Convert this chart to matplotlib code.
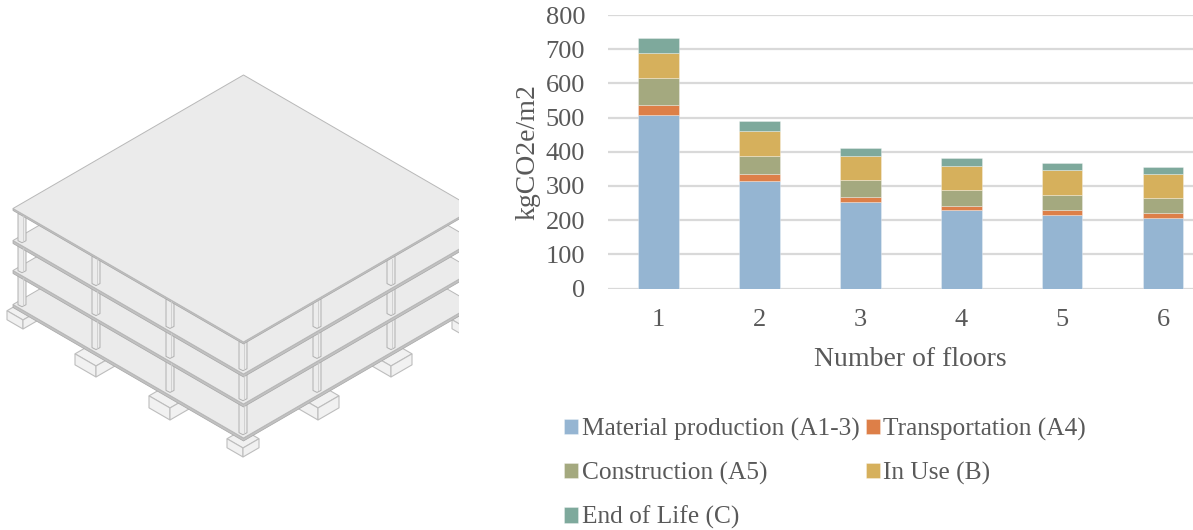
import numpy as np
import matplotlib
matplotlib.use('Agg')
import matplotlib.pyplot as plt
from matplotlib.patches import Polygon

W, H = 1193, 530

floors = [1, 2, 3, 4, 5, 6]
material = [507, 313, 252, 229, 214, 207]
transport = [30, 22, 16, 12, 15, 14]
construction = [79, 54, 49, 47, 45, 44]
in_use = [74, 72, 71, 71, 72, 71]
end_of_life = [43, 29, 24, 23, 20, 20]

series = [
    ('Material production (A1-3)', material, '#95b5d2'),
    ('Transportation (A4)', transport, '#dd7f48'),
    ('Construction (A5)', construction, '#a4a97f'),
    ('In Use (B)', in_use, '#d6b05c'),
    ('End of Life (C)', end_of_life, '#7ea99c'),
]
legend_order = [0, 2, 4, 1, 3]

# building drawing, in pixels
slab_drop = [96, 62, 32, 0]
slab_center = (243.5, 208.5)
slab_half = (230.5, 133.5)
column_x = [22, 96, 170, 243, 317, 391]
# centre x, y of front top corner, half width, height
footings = [
    (23, 320, 16, 9),
    (468, 329, 16, 9),
    (96, 366, 21, 11),
    (391, 366, 21, 11),
    (170, 408, 21, 12),
    (318, 408, 21, 12),
    (243, 448, 16, 9),
]

FILL = '#ebebeb'
EDGE = '#b0b0b0'
BAND = '#c2c2c2'


def edge_y(x, drop):
    cx, cy = slab_center
    hw, hh = slab_half
    return cy + hh * (1 - abs(x - cx) / hw) + drop


def draw_footing(ax, cx, y, hw, h):
    dy = hw * slab_half[1] / slab_half[0]
    kw = dict(fc='#f1f1f1', ec='#bdbdbd', lw=0.8)
    ax.add_patch(Polygon([(cx - hw, y - dy), (cx, y - 2 * dy), (cx + hw, y - dy), (cx, y)], **kw))
    ax.add_patch(Polygon([(cx - hw, y - dy), (cx, y), (cx, y + h), (cx - hw, y - dy + h)], **kw))
    ax.add_patch(Polygon([(cx + hw, y - dy), (cx, y), (cx, y + h), (cx + hw, y - dy + h)], **kw))


def draw_slab(ax, drop):
    cx, cy = slab_center
    hw, hh = slab_half
    cy += drop
    t = 3
    # the roof slab reads thinner than the floors under it
    if drop == 0:
        t = 2
    ax.add_patch(Polygon([(cx - hw, cy), (cx, cy + hh), (cx + hw, cy), (cx + hw, cy + t),
                          (cx, cy + hh + t), (cx - hw, cy + t)], fc=BAND, ec='#a6a6a6', lw=0.5))
    ax.add_patch(Polygon([(cx - hw, cy), (cx, cy - hh), (cx + hw, cy), (cx, cy + hh)],
                         fc=FILL, ec='#b8b8b8', lw=0.7))


def draw_column(ax, x, top, bottom):
    w = 4
    ax.add_patch(Polygon([(x - w, top), (x + w, top), (x + w, bottom - 2), (x, bottom),
                          (x - w, bottom - 2)], fc='#ececec', ec=EDGE, lw=0.7))
    ax.plot([x + 1, x + 1], [top + 2, bottom - 2], color='#cccccc', lw=0.6)


fig = plt.figure(figsize=(W / 100, H / 100), dpi=100)
plt.rcParams['font.family'] = ['Liberation Serif', 'DejaVu Serif']

ax_b = fig.add_axes([0, 0, 459 / W, 1])
ax_b.set_xlim(0, 459)
ax_b.set_ylim(H, 0)
ax_b.axis('off')

for f in footings:
    draw_footing(ax_b, *f)
draw_slab(ax_b, slab_drop[0])
for upper, lower in zip(slab_drop[1:], slab_drop[:-1]):
    for x in column_x:
        draw_column(ax_b, x, edge_y(x, upper), edge_y(x, lower) - 3)
    draw_slab(ax_b, upper)

# stacked bars; the category axis runs off the right of the figure
left, right, top, bottom = 608, 1193, 15, 288.5
ax = fig.add_axes([left / W, 1 - bottom / H, (right - left) / W, (bottom - top) / H])
x = np.arange(len(floors)) + 1
base = np.zeros(len(floors))
handles = []
for name, vals, col in series:
    b = ax.bar(x, vals, 0.405, bottom=base, color=col, edgecolor=(1, 1, 1, 0.3), linewidth=0.7,
               label=name, zorder=3)
    handles.append(b)
    base += np.array(vals)

ax.set_xlim(0.5, 0.5 + (right - left) / 100.9)
ax.set_ylim(0, 800)
ax.set_yticks(range(0, 801, 100))
ax.set_xticks(x)
ax.set_xticklabels(floors)
ax.grid(axis='y', color='#d9d9d9', lw=1.6, zorder=0)
ax.set_axisbelow(True)
for s in ax.spines.values():
    s.set_visible(False)
ax.tick_params(length=0, labelsize=19, labelcolor='#595959')
ax.tick_params(axis='x', pad=14.5)
ax.tick_params(axis='y', pad=16.5)

fig.text(910 / W, 1 - 359 / H, 'Number of floors', fontsize=20, color='#595959', ha='center', va='center')
fig.text(528 / W, 1 - 152 / H, 'kgCO2e/m2', fontsize=20, color='#595959', rotation=90, ha='center', va='center')

fig.legend([handles[i] for i in legend_order], [series[i][0] for i in legend_order],
           ncol=2, loc='upper left', bbox_to_anchor=(564 / W, 1 - 418 / H), frameon=False,
           fontsize=18.3, labelcolor='#595959', handlelength=0.55, handleheight=0.55,
           handletextpad=0.14, columnspacing=0.25, labelspacing=0.82, borderpad=0, borderaxespad=0)

fig.savefig('out.png', dpi=100)
